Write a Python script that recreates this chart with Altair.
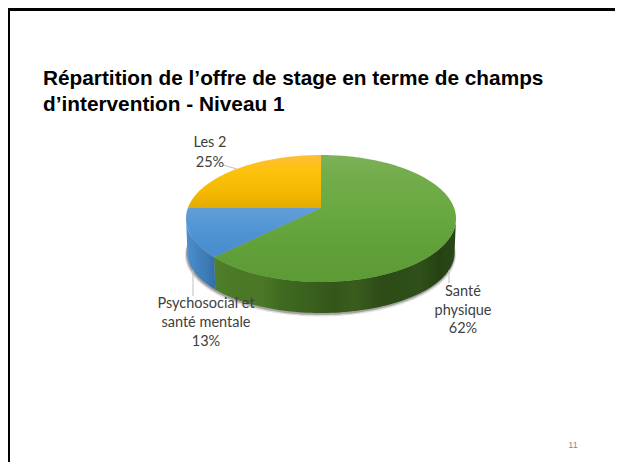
import math
import altair as alt

categories = ["Santé physique", "Psychosocial et santé mentale", "Les 2"]
values = [62, 13, 25]
title_lines = ["Répartition de l’offre de stage en terme de champs", "d’intervention - Niveau 1"]
page_number = "11"

CX, CY, RX, RY = 321.0, 218.5, 135.0, 63.5
APEX_Y = 208.0
BCY, BRX, BRY = 253.0, 133.5, 60.0


def rim_point(frac):
    a = 2 * math.pi * frac
    dx, dy = math.sin(a), -math.cos(a)
    if dy > 0:
        dy *= 0.92
    off = (APEX_Y - CY) / RY
    A = dx * dx + dy * dy
    B = 2 * dy * off
    C = off * off - 1
    s = (-B + math.sqrt(B * B - 4 * A * C)) / (2 * A)
    return (CX + dx * s * RX, APEX_Y + dy * s * RY)


def phi_of(p):
    return math.atan2((p[1] - CY) / RY, (p[0] - CX) / RX)


def feature(coords):
    coords = [[round(x, 2), round(y, 2)] for x, y in coords]
    coords.append(coords[0])
    return {"type": "Feature", "properties": {}, "geometry": {"type": "Polygon", "coordinates": [coords]}}


def sector(f0, f1):
    n = max(2, int((f1 - f0) * 240))
    pts = [(CX, APEX_Y)]
    for i in range(n + 1):
        pts.append(rim_point(f0 + (f1 - f0) * i / n))
    return feature(pts)


def wall(p0, p1):
    n = 80
    ph = [p0 + (p1 - p0) * i / n for i in range(n + 1)]
    top = [(CX + RX * math.cos(p), CY + RY * math.sin(p)) for p in ph]
    bot = [(CX + BRX * math.cos(p), BCY + BRY * math.sin(p)) for p in ph]
    return feature(top + bot[::-1])


def ellipse(cx, cy, rx, ry):
    return feature([(cx + rx * math.cos(i * math.pi / 90), cy + ry * math.sin(i * math.pi / 90)) for i in range(180)])


def vgrad(stops):
    return alt.Gradient(gradient="linear", x1=0, y1=0, x2=0, y2=1,
                        stops=[alt.GradientStop(offset=o, color=c) for o, c in stops])


def hgrad(stops):
    return alt.Gradient(gradient="linear", x1=0, y1=0, x2=1, y2=0,
                        stops=[alt.GradientStop(offset=o, color=c) for o, c in stops])


proj = alt.Projection(type="identity", scale=1, translate=[-8, -8])


def shape(feat, **kw):
    return alt.Chart(alt.Data(values=[feat])).mark_geoshape(strokeWidth=0, **kw).project(**proj.to_dict())


total = sum(values)
f_green = values[0] / total
f_blue = (values[0] + values[1]) / total
phi_split = phi_of(rim_point(f_green))

layers = [
    shape(ellipse(CX - 0.5, BCY + 2, BRX + 2, BRY + 1.5), fill="#000000", opacity=0.12),
    shape(ellipse(CX - 0.5, BCY + 1, BRX + 1, BRY + 1), fill="#333333", opacity=0.35),
    shape(wall(0, phi_split), fill=hgrad([
        (0.0, "#4f7f2a"), (0.1, "#4a7826"), (0.2, "#4a7826"), (0.28, "#3f6a20"), (0.4, "#3a5f1e"),
        (0.5, "#33561a"), (0.58, "#3a5d1e"), (0.7, "#2c4b17"), (0.85, "#2f5019"), (0.93, "#264214"), (1.0, "#2a4916"),
    ])),
    shape(wall(phi_split, math.pi), fill=hgrad([
        (0.0, "#4f8fcb"), (0.35, "#4484c0"), (0.7, "#3d7bb6"), (1.0, "#2f6ea8"),
    ])),
    shape(sector(0, f_green), fill=vgrad([
        (0.0, "#7eb25a"), (0.12, "#74ad4e"), (0.45, "#69a940"), (0.8, "#5f9e38"), (1.0, "#5c9a34"),
    ])),
    shape(sector(f_green, f_blue), fill=vgrad([
        (0.0, "#629fd8"), (0.5, "#4f93d2"), (1.0, "#4a8ccb"),
    ])),
    shape(sector(f_blue, 1), fill=vgrad([
        (0.0, "#fdbe3c"), (0.3, "#fcc20c"), (0.7, "#f4b900"), (1.0, "#e3ab00"),
    ])),
]


def frame_rule(x, x2, y, y2, w):
    return alt.Chart(alt.Data(values=[{"k": 1}])).mark_rule(color="#000000", strokeWidth=w).encode(
        x=alt.value(x), x2=alt.value(x2), y=alt.value(y), y2=alt.value(y2))


def leader(x, x2, y, y2):
    return alt.Chart(alt.Data(values=[{"k": 1}])).mark_rule(color="#bfbfbf", strokeWidth=1).encode(
        x=alt.value(x - 8), x2=alt.value(x2 - 8), y=alt.value(y - 8), y2=alt.value(y2 - 8))


layers += [leader(223, 237, 165, 169), leader(193, 193, 270, 296), leader(449, 449, 270, 283)]


def text(s, x, y, **kw):
    return alt.Chart(alt.Data(values=[{"t": s}])).mark_text(baseline="alphabetic", **kw).encode(
        x=alt.value(x - 8), y=alt.value(y - 8), text="t:N")


lab = dict(font="Lato", fontSize=14.5, color="#404040", align="center")
pct = [f"{v}%" for v in values]
layers += [
    text("Les 2", 210, 147, **lab), text(pct[2], 210, 167, **lab),
    text("Psychosocial et", 206, 308, **lab), text("santé mentale", 206, 327, **lab), text(pct[1], 206, 346, **lab),
    text("Santé", 463, 296, **lab), text("physique", 463, 315, **lab), text(pct[0], 463, 333, **lab),
]
ttl = dict(font="Liberation Sans", fontSize=20.8, fontWeight="bold", color="#000000", align="left")
layers += [text(title_lines[0], 43, 85, **ttl), text(title_lines[1], 43, 110.5, **ttl)]
layers += [text(page_number, 573, 448, font="Liberation Sans", fontSize=9, color="#8c8c8c", align="center")]
layers += [frame_rule(1, 1, 0, 454, 2), frame_rule(0, 607, 1.5, 1.5, 3)]

chart = alt.layer(*layers).properties(width=607, height=454, padding=0).configure_view(strokeWidth=0).configure(
    autosize=alt.AutoSizeParams(type="none"))
chart.save("out.html", embed_options={"renderer": "svg", "actions": False})
